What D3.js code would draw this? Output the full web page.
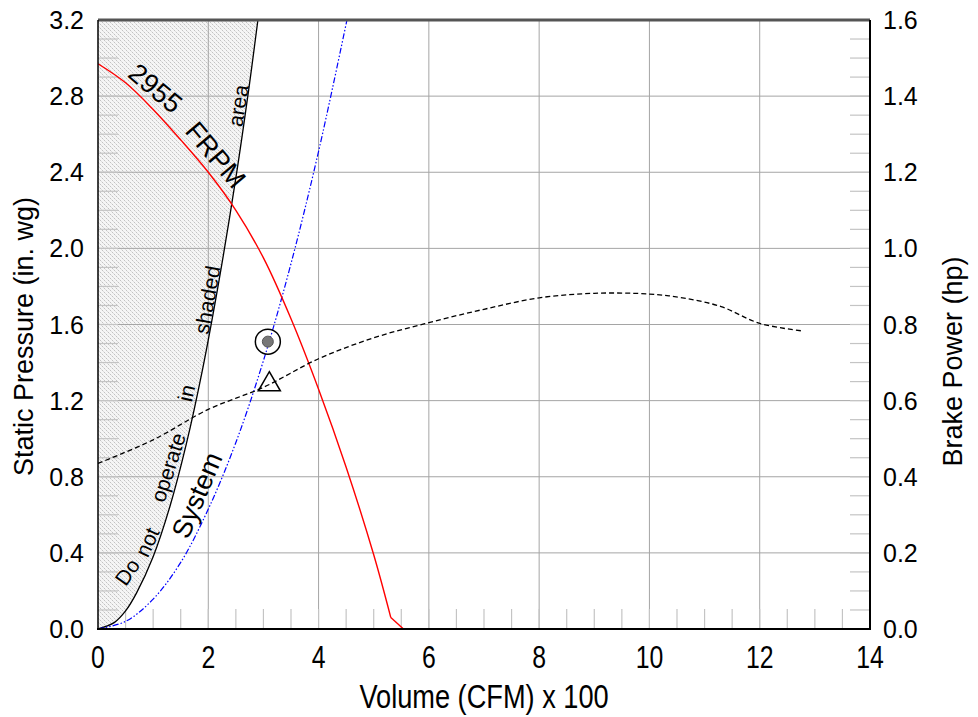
<!DOCTYPE html>
<html><head><meta charset="utf-8">
<script src="https://cdn.jsdelivr.net/npm/d3@7/dist/d3.min.js"></script>
<style>body{margin:0;background:#fff}svg{display:block}</style>
</head><body>
<svg id="chart" width="978" height="717"></svg>
<script>
// ---- data (volume in CFM x 100, pressure in in. wg, power in hp) ----
const xTicks = [0, 2, 4, 6, 8, 10, 12, 14];
const yTicks = [0.0, 0.4, 0.8, 1.2, 1.6, 2.0, 2.4, 2.8, 3.2];
const y2Ticks = [0.0, 0.2, 0.4, 0.6, 0.8, 1.0, 1.2, 1.4, 1.6];

// fan curve: smooth part, then a short straight tail to zero
const fanQ = [0, 0.5, 1.0, 1.5, 2.0, 2.5, 3.0, 3.5, 4.0, 4.5, 5.0, 5.31];
const fanP = [2.97, 2.87, 2.73, 2.57, 2.40, 2.20, 1.95, 1.63, 1.26, 0.85, 0.39, 0.06];
const fanTailQ = [5.31, 5.54];
const fanTailP = [0.06, 0.0];

const systemQ = [0, 0.5, 1.0, 1.5, 2.0, 2.5, 3.0, 3.5, 4.0, 4.5, 4.55];
const systemP = [0, 0.04, 0.157, 0.35, 0.63, 0.98, 1.41, 1.92, 2.51, 3.18, 3.25];

const limitQ = [0, 0.3, 0.5, 0.7, 1.0, 1.3, 1.6, 1.9, 2.2, 2.5, 2.75, 2.9, 2.93];
const limitP = [0, 0.035, 0.095, 0.19, 0.38, 0.64, 0.97, 1.37, 1.84, 2.37, 2.87, 3.2, 3.26];

const powerQ = [0, 1, 2, 3, 4, 5, 6, 7, 8, 9, 10, 10.6, 11.3, 12, 12.78];
const powerHp = [0.435, 0.497, 0.577, 0.635, 0.71, 0.765, 0.805, 0.84, 0.87, 0.882, 0.88, 0.87, 0.847, 0.803, 0.783];

const operatingPoint = [3.08, 1.51];
const triangleMarker = [3.107, 1.285];

const curveLabels = [
  {text: "2955", q: 1.04, p: 2.84, rot: 40, size: 27},
  {text: "FRPM", q: 2.13, p: 2.49, rot: 50, size: 27},
  {text: "System", q: 1.80, p: 0.703, rot: -67, size: 27},
  {text: "Do", q: 0.53, p: 0.30, rot: -55, size: 21},
  {text: "not", q: 0.89, p: 0.457, rot: -65, size: 21},
  {text: "operate", q: 1.27, p: 0.849, rot: -72, size: 21},
  {text: "in", q: 1.60, p: 1.24, rot: -77, size: 21},
  {text: "shaded", q: 1.98, p: 1.73, rot: -80, size: 21},
  {text: "area", q: 2.54, p: 2.75, rot: -81, size: 21}
];

// ---- layout ----
const svg = d3.select("#chart");
const L = 98, R = 870, T = 20, B = 629;
const x = d3.scaleLinear().domain([0, 14]).range([L, R]);
const y = d3.scaleLinear().domain([0, 3.2]).range([B, T]);
const y2 = d3.scaleLinear().domain([0, 1.6]).range([B, T]);

const defs = svg.append("defs");
const pat = defs.append("pattern").attr("id", "hatch").attr("patternUnits", "userSpaceOnUse")
  .attr("width", 4).attr("height", 4);
pat.append("rect").attr("width", 4).attr("height", 4).attr("fill", "#f5f5f5");
pat.append("rect").attr("x", 0).attr("y", 0).attr("width", 1).attr("height", 1).attr("fill", "#c2c2c2");
pat.append("rect").attr("x", 2).attr("y", 2).attr("width", 1).attr("height", 1).attr("fill", "#c2c2c2");
pat.append("rect").attr("x", 1).attr("y", 1).attr("width", 1).attr("height", 1).attr("fill", "#dedede");
pat.append("rect").attr("x", 3).attr("y", 3).attr("width", 1).attr("height", 1).attr("fill", "#dedede");
defs.append("clipPath").attr("id", "clip").append("rect")
  .attr("x", L).attr("y", T).attr("width", R - L).attr("height", B - T);

const plot = svg.append("g").attr("clip-path", "url(#clip)");

// shaded area
const limitPts = limitQ.map((q, i) => [q, limitP[i]]);
const lineGen = d3.line().x(d => x(d[0])).y(d => y(d[1])).curve(d3.curveCatmullRom);
plot.append("path")
  .attr("d", lineGen(limitPts) + "L" + x(0) + "," + y(3.26) + "Z")
  .attr("fill", "url(#hatch)");

// grid
const gridColor = "#a5a5a5";
plot.selectAll(".vg").data(xTicks.slice(1, -1)).enter().append("line")
  .attr("x1", d => x(d)).attr("x2", d => x(d)).attr("y1", T).attr("y2", B)
  .attr("stroke", gridColor).attr("stroke-width", 1);
plot.selectAll(".hg").data(yTicks.slice(1, -1)).enter().append("line")
  .attr("x1", L).attr("x2", R).attr("y1", d => y(d)).attr("y2", d => y(d))
  .attr("stroke", gridColor).attr("stroke-width", 1);

// minor ticks
const minorColor = "#c4c4c4";
const xMinor = d3.range(0.5, 14, 0.5);
plot.selectAll(".xm").data(xMinor).enter().append("line")
  .attr("x1", d => x(d)).attr("x2", d => x(d)).attr("y1", B).attr("y2", B - 20)
  .attr("stroke", minorColor).attr("stroke-width", 1.2);
const yMinor = d3.range(0.1, 3.2, 0.1);
plot.selectAll(".ym").data(yMinor).enter().append("line")
  .attr("x1", L).attr("x2", L + 20).attr("y1", d => y(d)).attr("y2", d => y(d))
  .attr("stroke", minorColor).attr("stroke-width", 1.2);
const y2Minor = d3.range(0.05, 1.6, 0.05);
plot.selectAll(".y2m").data(y2Minor).enter().append("line")
  .attr("x1", R).attr("x2", R - 20).attr("y1", d => y2(d)).attr("y2", d => y2(d))
  .attr("stroke", minorColor).attr("stroke-width", 1.2);

// curves
plot.append("path").attr("d", lineGen(limitPts)).attr("fill", "none")
  .attr("stroke", "#000").attr("stroke-width", 1.3);
plot.append("path").attr("d", lineGen(systemQ.map((q, i) => [q, systemP[i]])))
  .attr("fill", "none").attr("stroke", "#0000ff").attr("stroke-width", 1.2)
  .attr("stroke-dasharray", "6,2,1.5,2,1.5,2");
plot.append("path").attr("d", lineGen(fanQ.map((q, i) => [q, fanP[i]])))
  .attr("fill", "none").attr("stroke", "#ff0000").attr("stroke-width", 1.4);
const lin = d3.line().x(d => x(d[0])).y(d => y(d[1]));
plot.append("path").attr("d", lin(fanTailQ.map((q, i) => [q, fanTailP[i]])))
  .attr("fill", "none").attr("stroke", "#ff0000").attr("stroke-width", 1.4);
const linePow = d3.line().x(d => x(d[0])).y(d => y2(d[1])).curve(d3.curveCatmullRom);
plot.append("path").attr("d", linePow(powerQ.map((q, i) => [q, powerHp[i]])))
  .attr("fill", "none").attr("stroke", "#000").attr("stroke-width", 1.3)
  .attr("stroke-dasharray", "5,3");

// markers
svg.append("circle").attr("cx", x(operatingPoint[0])).attr("cy", y(operatingPoint[1])).attr("r", 12.5)
  .attr("fill", "none").attr("stroke", "#000").attr("stroke-width", 1.5);
svg.append("circle").attr("cx", x(operatingPoint[0])).attr("cy", y(operatingPoint[1])).attr("r", 5.5)
  .attr("fill", "#777").attr("stroke", "#555").attr("stroke-width", 1);
svg.append("path").attr("d", d3.symbol().type(d3.symbolTriangle).size(210)())
  .attr("transform", `translate(${x(triangleMarker[0])},${y(triangleMarker[1])})`)
  .attr("fill", "none").attr("stroke", "#000").attr("stroke-width", 1.5);

// curve labels
const sans = "Liberation Sans, Arial, sans-serif";
svg.selectAll(".cl").data(curveLabels).enter().append("text")
  .attr("transform", d => `translate(${x(d.q)},${y(d.p)}) rotate(${d.rot})`)
  .attr("text-anchor", "middle").attr("dominant-baseline", "central")
  .attr("font-family", sans).attr("font-size", d => d.size)
  .attr("fill", "#000").text(d => d.text);

// frame
svg.append("line").attr("x1", L).attr("x2", R).attr("y1", T).attr("y2", T).attr("stroke", "#555").attr("stroke-width", 3);
svg.append("line").attr("x1", L).attr("x2", L).attr("y1", T).attr("y2", B).attr("stroke", "#000").attr("stroke-width", 1.5);
svg.append("line").attr("x1", R).attr("x2", R).attr("y1", T).attr("y2", B + 1).attr("stroke", "#000").attr("stroke-width", 2);
svg.append("line").attr("x1", L - 1).attr("x2", R + 1).attr("y1", B).attr("y2", B).attr("stroke", "#000").attr("stroke-width", 2);

// axes labels
svg.selectAll(".yl").data(yTicks).enter().append("text")
  .attr("x", 84).attr("y", d => y(d)).attr("text-anchor", "end").attr("dominant-baseline", "central")
  .attr("font-family", sans).attr("font-size", 25).text(d => d.toFixed(1));
svg.selectAll(".y2l").data(y2Ticks).enter().append("text")
  .attr("x", 883).attr("y", d => y2(d)).attr("text-anchor", "start").attr("dominant-baseline", "central")
  .attr("font-family", sans).attr("font-size", 25).text(d => d.toFixed(1));
svg.selectAll(".xl").data(xTicks).enter().append("text")
  .attr("transform", d => `translate(${x(d)},668) scale(0.8,1)`).attr("text-anchor", "middle")
  .attr("font-family", sans).attr("font-size", 31).text(d => d);
svg.append("text").attr("transform", `translate(${(L + R) / 2},708) scale(0.8,1)`).attr("text-anchor", "middle")
  .attr("font-family", sans).attr("font-size", 34).text("Volume (CFM) x 100");
svg.append("text").attr("transform", `translate(24,${(T + B) / 2 + 12}) rotate(-90)`)
  .attr("text-anchor", "middle").attr("dominant-baseline", "central")
  .attr("font-family", sans).attr("font-size", 27).text("Static Pressure (in. wg)");
svg.append("text").attr("transform", `translate(953,${(T + B) / 2 + 37}) rotate(-90)`)
  .attr("text-anchor", "middle").attr("dominant-baseline", "central")
  .attr("font-family", sans).attr("font-size", 27).text("Brake Power (hp)");
</script>
</body></html>
